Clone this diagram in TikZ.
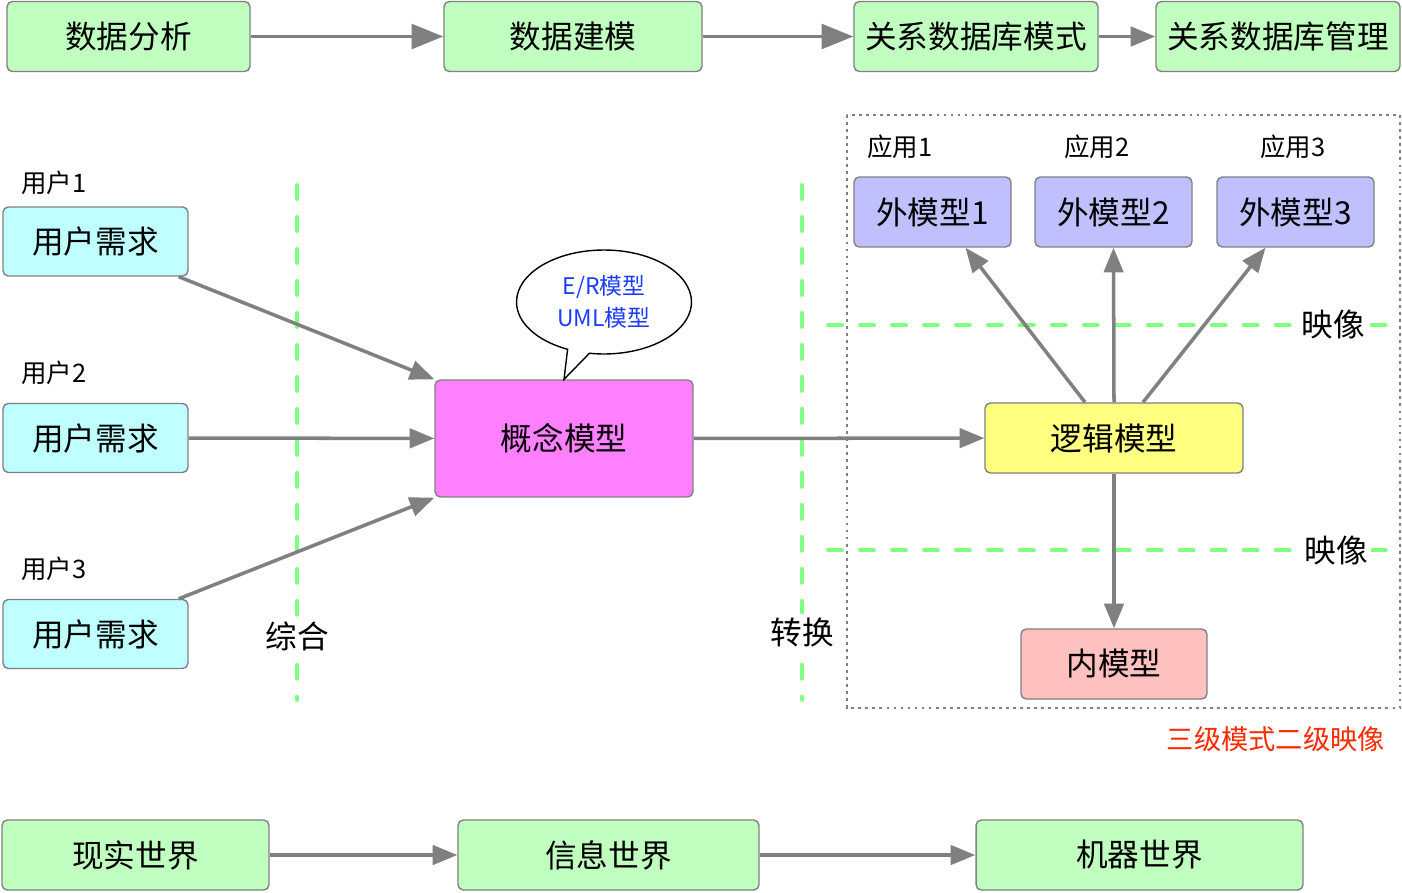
\documentclass[tikz,border=0pt]{standalone}
\usepackage{fontspec}
\setmainfont{Noto Sans CJK SC}
\usetikzlibrary{arrows.meta,shapes.callouts}

\definecolor{boxline}{HTML}{808080}
\definecolor{arrowgray}{HTML}{808080}
\definecolor{sepgreen}{HTML}{80FF80}
\definecolor{fgreen}{HTML}{C0FFC0}
\definecolor{fcyan}{HTML}{C0FFFF}
\definecolor{fpink}{HTML}{FF80FF}
\definecolor{fyellow}{HTML}{FFFF80}
\definecolor{fblue}{HTML}{C0C0FF}
\definecolor{frose}{HTML}{FFC0C0}
\definecolor{bubbleblue}{HTML}{1A3CFF}
\definecolor{notered}{HTML}{FF2A00}

\begin{document}
\begin{tikzpicture}[
        x=0.02cm, y=-0.02cm,
        font=\fontsize{18}{21}\selectfont,
        box/.style={
            rectangle, rounded corners=3pt, draw=boxline, line width=0.8pt,
            inner sep=0pt, minimum height=1.4cm, align=center
        },
        arrow/.style={-{Triangle[length=14pt,width=11pt]}, draw=arrowgray, line width=2pt},
        bigarrow/.style={arrow, -{Triangle[length=18pt,width=14pt]}},
        sep/.style={draw=sepgreen, line width=2.2pt, line cap=round, dash pattern=on 8pt off 10.2pt},
        small/.style={font=\fontsize{14.5}{17}\selectfont}
    ]
        \useasboundingbox (0,0) rectangle (1402,892);

        % Zeile oben: Entwurfsschritte
        \node[box, fill=fgreen, minimum width=4.86cm] (analyse) at (128.5,36.5) {数据分析};
        \node[box, fill=fgreen, minimum width=5.16cm] (modell) at (573,36.5) {数据建模};
        \node[box, fill=fgreen, minimum width=4.88cm] (schema) at (976,36.5) {关系数据库模式};
        \node[box, fill=fgreen, minimum width=4.88cm] (verwaltung) at (1278,36.5) {关系数据库管理};

        \draw[bigarrow] (analyse) -- (modell);
        \draw[bigarrow] (modell) -- (schema);
        \draw[arrow] (schema) -- (verwaltung);

        % Rahmen der drei Ebenen
        \draw[boxline, line width=1pt, dash pattern=on 1.6pt off 2.4pt] (847,115) rectangle (1400,708);
        \node[anchor=east, text=notered, font=\fontsize{15.5}{18}\selectfont] (ebenen) at (1391,739) {三级模式二级映像};

        % Trennlinien
        \draw[sep] (297,185) -- (297,700);
        \draw[sep] (802,185) -- (802,700);
        \draw[sep] (828,325) -- (1390,325);
        \draw[sep] (828,550) -- (1390,550);
        \node[fill=white, inner sep=2pt] (synth) at (297,636) {综合};
        \node[fill=white, inner sep=2pt] (umwandl) at (802,632) {转换};
        \node[fill=white, inner sep=2pt] (abb1) at (1333,325) {映像};
        \node[fill=white, inner sep=2pt] (abb2) at (1336,551) {映像};

        % Benutzer
        \node[small, anchor=west] (n1) at (15,183) {用户1};
        \node[small, anchor=west] (n2) at (15,373) {用户2};
        \node[small, anchor=west] (n3) at (15,569) {用户3};
        \node[box, fill=fcyan, minimum width=3.7cm, minimum height=1.38cm] (u1) at (95.5,241.5) {用户需求};
        \node[box, fill=fcyan, minimum width=3.7cm, minimum height=1.38cm] (u2) at (95.5,438) {用户需求};
        \node[box, fill=fcyan, minimum width=3.7cm, minimum height=1.38cm] (u3) at (95.5,634) {用户需求};

        % Konzept
        \node[box, fill=fpink, minimum width=5.16cm, minimum height=2.34cm] (konzept) at (564,438.5) {概念模型};
        \node[ellipse callout, draw=black, line width=0.8pt, fill=white,
              minimum width=3.5cm, minimum height=2.08cm, inner sep=0pt,
              callout absolute pointer={(konzept.north)},
              text=bubbleblue, align=center, font=\fontsize{13}{18.5}\selectfont] (er) at (604,302) {E/R模型\\UML模型};

        \draw[arrow] ([xshift=-0.2cm]u1.south east) -- (konzept.north west);
        \draw[arrow] (u2) -- (konzept);
        \draw[arrow] ([xshift=-0.2cm]u3.north east) -- (konzept.south west);

        % Drei Ebenen
        \node[small, anchor=west] (a1) at (861,147) {应用1};
        \node[small, anchor=west] (a2) at (1058,147) {应用2};
        \node[small, anchor=west] (a3) at (1254,147) {应用3};
        \node[box, fill=fblue, minimum width=3.14cm] (ext1) at (932.5,212) {外模型1};
        \node[box, fill=fblue, minimum width=3.14cm] (ext2) at (1113.5,212) {外模型2};
        \node[box, fill=fblue, minimum width=3.14cm] (ext3) at (1295.5,212) {外模型3};
        \node[box, fill=fyellow, minimum width=5.16cm] (logik) at (1114,438) {逻辑模型};
        \node[box, fill=frose, minimum width=3.72cm] (intern) at (1114,664) {内模型};

        \draw[arrow] (konzept) -- (logik);
        \draw[arrow] ([xshift=-0.58cm]logik.north) -- ([xshift=0.66cm]ext1.south);
        \draw[arrow] (logik.north) -- (ext2.south);
        \draw[arrow] ([xshift=0.58cm]logik.north) -- ([xshift=-0.6cm]ext3.south);
        \draw[arrow] (logik) -- (intern);

        % Zeile unten: Welten
        \node[box, fill=fgreen, minimum width=5.34cm] (real) at (135.5,855) {现实世界};
        \node[box, fill=fgreen, minimum width=6.02cm] (info) at (608.5,855) {信息世界};
        \node[box, fill=fgreen, minimum width=6.54cm] (maschine) at (1139.5,855) {机器世界};

        \draw[arrow] (real) -- (info);
        \draw[arrow] (info) -- (maschine);

    \end{tikzpicture}
\end{document}
